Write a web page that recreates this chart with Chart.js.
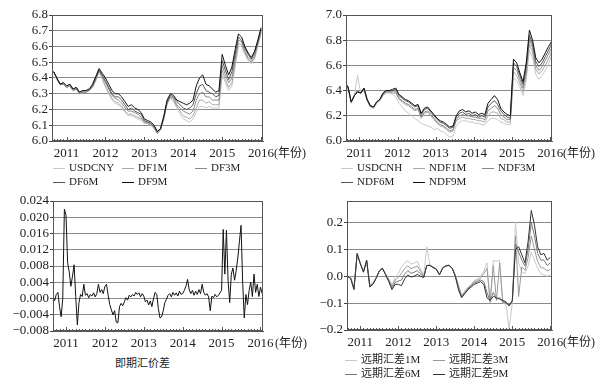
<!DOCTYPE html>
<html>
<head>
<meta charset="utf-8">
<script src="https://cdn.jsdelivr.net/npm/chart.js@4.4.0/dist/chart.umd.min.js"></script>
<style>
  body { margin: 0; background: #fff; width: 615px; height: 388px; position: relative; overflow: hidden;
         font-family: 'Liberation Serif', 'Noto Sans CJK SC', serif; color: #222; }
  canvas { position: absolute; }
  .lg { position: absolute; font-size: 11px; line-height: 12px; white-space: nowrap; }
  .lg i { display: inline-block; width: 12px; height: 0; border-top: 1px solid; vertical-align: middle; margin-right: 4px; }
  .unit { position: absolute; font-size: 12px; line-height: 14px; white-space: nowrap; }
</style>
</head>
<body>
<canvas id="tl" width="300" height="162" style="left:0;top:0"></canvas>
<canvas id="tr" width="300" height="162" style="left:300px;top:0"></canvas>
<canvas id="bl" width="300" height="165" style="left:0;top:185px"></canvas>
<canvas id="br" width="300" height="165" style="left:300px;top:185px"></canvas>

<div class="unit" style="left:274px;top:146px">(年份)</div>
<div class="unit" style="left:563px;top:146px">(年份)</div>
<div class="unit" style="left:275px;top:336px">(年份)</div>
<div class="unit" style="left:563px;top:335px">(年份)</div>

<div class="lg" style="left:53px;top:161px"><i style="border-color:#c8c8c8"></i>USDCNY</div>
<div class="lg" style="left:122px;top:161px"><i style="border-color:#a8a8a8"></i>DF1M</div>
<div class="lg" style="left:195px;top:161px"><i style="border-color:#888"></i>DF3M</div>
<div class="lg" style="left:53px;top:175px"><i style="border-color:#555"></i>DF6M</div>
<div class="lg" style="left:122px;top:175px"><i style="border-color:#111"></i>DF9M</div>

<div class="lg" style="left:341px;top:161px"><i style="border-color:#c8c8c8"></i>USDCNH</div>
<div class="lg" style="left:413px;top:161px"><i style="border-color:#a8a8a8"></i>NDF1M</div>
<div class="lg" style="left:482px;top:161px"><i style="border-color:#888"></i>NDF3M</div>
<div class="lg" style="left:341px;top:175px"><i style="border-color:#555"></i>NDF6M</div>
<div class="lg" style="left:413px;top:175px"><i style="border-color:#111"></i>NDF9M</div>

<div class="lg" style="left:115px;top:357px;font-size:11px">即期汇价差</div>

<div class="lg" style="left:345px;top:353px"><i style="border-color:#c8c8c8"></i>远期汇差1M</div>
<div class="lg" style="left:433px;top:353px"><i style="border-color:#999"></i>远期汇差3M</div>
<div class="lg" style="left:345px;top:367px"><i style="border-color:#777"></i>远期汇差6M</div>
<div class="lg" style="left:433px;top:367px"><i style="border-color:#333"></i>远期汇差9M</div>

<script>
const years = [2011, 2012, 2013, 2014, 2015, 2016];
const tlTicks = [6.0, 6.1, 6.2, 6.3, 6.4, 6.5, 6.6, 6.7, 6.8];
const trTicks = [6.0, 6.2, 6.4, 6.6, 6.8, 7.0];
const blTicks = [-0.008, -0.004, 0, 0.004, 0.008, 0.012, 0.016, 0.020, 0.024];
const brTicks = [-0.2, -0.1, 0, 0.1, 0.2];

// top left: monthly
const usdcny = [6.44,6.39,6.36,6.36,6.34,6.35,6.32,6.33,6.30,6.31,
  6.31,6.32,6.34,6.38,6.44,6.39,6.34,6.30,6.26,6.24,
  6.23,6.21,6.18,6.16,6.16,6.15,6.14,6.13,6.11,6.11,
  6.10,6.08,6.05,6.07,6.14,6.23,6.27,6.25,6.21,6.17,
  6.14,6.13,6.12,6.14,6.18,6.22,6.22,6.21,6.22,6.21,
  6.21,6.21,6.42,6.37,6.32,6.35,6.47,6.60,6.60,6.55,
  6.51,6.49,6.52,6.60,6.68];
const df1m = [6.44,6.39,6.36,6.36,6.34,6.35,6.32,6.33,6.30,6.31,
  6.31,6.32,6.34,6.39,6.44,6.40,6.35,6.31,6.27,6.25,
  6.24,6.22,6.19,6.17,6.17,6.16,6.15,6.14,6.12,6.11,
  6.10,6.08,6.05,6.07,6.14,6.24,6.28,6.26,6.22,6.19,
  6.16,6.15,6.14,6.16,6.21,6.26,6.26,6.24,6.25,6.23,
  6.23,6.23,6.45,6.39,6.34,6.37,6.49,6.62,6.61,6.56,
  6.52,6.50,6.53,6.61,6.69];
const df3m = [6.44,6.40,6.36,6.36,6.34,6.35,6.32,6.33,6.30,6.31,
  6.31,6.32,6.35,6.39,6.45,6.41,6.37,6.33,6.29,6.27,
  6.26,6.24,6.21,6.19,6.19,6.18,6.17,6.15,6.12,6.12,
  6.11,6.09,6.05,6.07,6.15,6.24,6.28,6.27,6.23,6.21,
  6.19,6.18,6.17,6.19,6.26,6.30,6.31,6.28,6.28,6.26,
  6.26,6.26,6.48,6.42,6.37,6.40,6.52,6.64,6.63,6.57,
  6.53,6.51,6.54,6.62,6.70];
const df6m = [6.44,6.40,6.36,6.37,6.35,6.36,6.33,6.34,6.31,6.32,
  6.32,6.33,6.35,6.40,6.45,6.42,6.38,6.34,6.30,6.28,
  6.28,6.26,6.23,6.20,6.21,6.19,6.18,6.17,6.13,6.12,
  6.11,6.09,6.06,6.08,6.15,6.25,6.29,6.28,6.25,6.23,
  6.21,6.20,6.21,6.23,6.30,6.35,6.36,6.32,6.31,6.30,
  6.28,6.29,6.51,6.45,6.39,6.44,6.55,6.66,6.64,6.59,
  6.55,6.52,6.56,6.63,6.71];
const df9m = [6.44,6.40,6.36,6.37,6.35,6.36,6.33,6.34,6.31,6.32,
  6.32,6.33,6.36,6.41,6.46,6.43,6.40,6.36,6.32,6.30,
  6.30,6.28,6.25,6.22,6.23,6.21,6.20,6.18,6.14,6.13,
  6.12,6.10,6.06,6.08,6.16,6.26,6.30,6.29,6.26,6.25,
  6.24,6.23,6.24,6.26,6.35,6.40,6.42,6.36,6.35,6.33,
  6.31,6.32,6.55,6.48,6.42,6.47,6.58,6.68,6.66,6.60,
  6.56,6.53,6.57,6.64,6.72];

// top right: monthly
const usdcnh = [6.45,6.42,6.30,6.37,6.52,6.38,6.40,6.32,6.27,6.26,
  6.30,6.32,6.36,6.38,6.38,6.37,6.35,6.30,6.27,6.24,
  6.22,6.20,6.18,6.16,6.14,6.13,6.12,6.11,6.09,6.10,
  6.08,6.07,6.05,6.03,6.04,6.12,6.15,6.16,6.16,6.15,
  6.15,6.14,6.14,6.13,6.13,6.16,6.18,6.18,6.17,6.15,
  6.14,6.13,6.13,6.50,6.48,6.43,6.36,6.48,6.72,6.66,
  6.53,6.49,6.52,6.56,6.61,6.68];
const ndf1m = [6.45,6.42,6.30,6.37,6.40,6.38,6.41,6.32,6.27,6.26,
  6.30,6.32,6.37,6.39,6.39,6.38,6.38,6.33,6.31,6.29,
  6.28,6.26,6.24,6.25,6.18,6.22,6.23,6.20,6.17,6.14,
  6.12,6.11,6.09,6.07,6.08,6.16,6.18,6.19,6.18,6.18,
  6.17,6.17,6.16,6.16,6.15,6.20,6.23,6.23,6.22,6.18,
  6.17,6.15,6.15,6.55,6.52,6.46,6.39,6.52,6.77,6.70,
  6.57,6.53,6.56,6.60,6.65,6.71];
const ndf3m = [6.45,6.42,6.31,6.36,6.40,6.38,6.41,6.33,6.28,6.27,
  6.31,6.33,6.37,6.39,6.39,6.39,6.39,6.34,6.32,6.30,
  6.29,6.27,6.25,6.26,6.19,6.23,6.24,6.21,6.18,6.15,
  6.13,6.12,6.10,6.08,6.09,6.17,6.20,6.21,6.20,6.20,
  6.19,6.19,6.18,6.18,6.17,6.24,6.26,6.28,6.26,6.21,
  6.19,6.17,6.17,6.58,6.56,6.49,6.42,6.56,6.81,6.74,
  6.60,6.56,6.59,6.64,6.69,6.74];
const ndf6m = [6.46,6.43,6.31,6.36,6.39,6.38,6.42,6.33,6.28,6.27,
  6.31,6.33,6.38,6.40,6.40,6.40,6.41,6.36,6.34,6.32,
  6.31,6.29,6.27,6.28,6.21,6.25,6.26,6.23,6.20,6.17,
  6.15,6.14,6.12,6.10,6.11,6.19,6.22,6.23,6.21,6.22,
  6.20,6.21,6.19,6.20,6.19,6.27,6.30,6.32,6.29,6.24,
  6.21,6.19,6.18,6.62,6.59,6.52,6.45,6.59,6.84,6.77,
  6.63,6.59,6.62,6.67,6.72,6.77];
const ndf9m = [6.46,6.43,6.31,6.36,6.39,6.38,6.42,6.33,6.28,6.27,
  6.31,6.33,6.38,6.40,6.40,6.41,6.42,6.37,6.35,6.33,
  6.32,6.30,6.28,6.29,6.22,6.26,6.27,6.24,6.21,6.18,
  6.16,6.15,6.13,6.11,6.12,6.20,6.24,6.25,6.23,6.24,
  6.22,6.23,6.21,6.22,6.21,6.30,6.33,6.36,6.33,6.26,
  6.23,6.21,6.20,6.65,6.62,6.54,6.47,6.62,6.88,6.80,
  6.66,6.62,6.65,6.70,6.75,6.79];

// bottom left: half-monthly
const spotGap = [0.0005,-0.0005,0.0010,0.0015,-0.0020,-0.0045,0.0000,0.0220,0.0205,0.0088,
  0.0065,0.0030,0.0055,0.0083,0.0005,-0.0065,-0.0010,0.0010,0.0005,0.0035,
  0.0008,0.0012,0.0002,0.0010,0.0006,0.0014,0.0004,0.0012,0.0035,0.0015,
  0.0022,0.0012,0.0030,0.0035,0.0008,-0.0015,-0.0028,-0.0040,-0.0030,-0.0058,
  -0.0060,-0.0020,-0.0012,-0.0018,-0.0008,0.0002,-0.0004,0.0008,0.0004,0.0010,
  0.0006,0.0015,0.0010,0.0014,0.0004,0.0012,0.0006,-0.0008,-0.0004,-0.0016,
  -0.0006,-0.0020,0.0000,0.0015,0.0010,-0.0025,-0.0048,-0.0045,-0.0030,-0.0010,
  -0.0002,0.0008,0.0012,0.0004,0.0015,0.0008,0.0014,0.0006,0.0018,0.0010,
  0.0012,0.0020,0.0030,0.0047,0.0022,0.0012,0.0020,0.0008,0.0018,0.0010,
  0.0022,0.0012,0.0035,0.0015,0.0008,0.0012,0.0004,-0.0030,0.0006,0.0002,
  0.0010,0.0004,0.0008,0.0014,0.0020,0.0170,0.0060,0.0168,0.0045,-0.0010,
  0.0060,0.0075,0.0045,0.0068,0.0100,0.0140,0.0180,0.0040,-0.0048,0.0010,
  -0.0015,0.0020,0.0040,0.0005,0.0060,0.0015,0.0035,0.0005,0.0028,0.0012];

// bottom right: monthly
const fs1m = [0.000,-0.005,-0.040,0.080,0.045,0.020,0.055,-0.030,-0.025,-0.005,
  0.020,0.028,0.010,-0.010,-0.030,-0.005,0.010,0.035,0.050,0.058,
  0.045,0.050,0.055,0.030,0.000,0.110,0.042,0.035,0.028,0.008,
  0.032,0.040,0.042,0.030,0.005,-0.030,-0.070,-0.055,-0.040,-0.030,
  -0.015,-0.010,0.000,0.020,0.050,-0.100,0.060,0.055,0.060,-0.100,
  -0.105,-0.195,-0.100,0.200,0.050,0.015,0.010,0.040,0.090,0.060,
  0.030,0.010,0.005,0.000,0.005];
const fs3m = [0.000,-0.007,-0.044,0.082,0.046,0.018,0.057,-0.034,-0.027,-0.006,
  0.020,0.029,0.008,-0.014,-0.037,-0.014,-0.004,0.011,0.029,0.039,
  0.028,0.033,0.038,0.020,-0.002,0.040,0.041,0.034,0.027,0.006,
  0.031,0.039,0.041,0.030,0.003,-0.037,-0.074,-0.059,-0.044,-0.034,
  -0.020,-0.015,-0.007,0.010,0.030,-0.095,0.040,-0.090,0.050,-0.098,
  -0.100,-0.110,-0.095,0.150,-0.075,0.035,0.022,0.070,0.150,0.100,
  0.055,0.032,0.030,0.020,0.025];
const fs6m = [0.000,-0.008,-0.047,0.084,0.047,0.016,0.059,-0.037,-0.029,-0.007,
  0.020,0.029,0.006,-0.017,-0.044,-0.023,-0.018,-0.014,0.008,0.021,
  0.011,0.015,0.021,0.009,-0.004,0.040,0.041,0.033,0.027,0.006,
  0.031,0.039,0.041,0.030,0.002,-0.044,-0.077,-0.062,-0.047,-0.037,
  -0.025,-0.020,-0.014,-0.020,-0.060,-0.092,-0.060,-0.085,-0.080,-0.095,
  -0.098,-0.108,-0.092,0.120,0.090,0.060,0.038,0.100,0.200,0.150,
  0.085,0.060,0.060,0.040,0.050];
const fs9m = [0.000,-0.010,-0.050,0.085,0.048,0.015,0.060,-0.040,-0.030,-0.008,
  0.020,0.030,0.005,-0.020,-0.050,-0.030,-0.030,-0.035,-0.010,0.005,
  -0.003,0.000,0.007,0.000,-0.005,0.040,0.040,0.032,0.026,0.005,
  0.030,0.038,0.040,0.030,0.000,-0.050,-0.080,-0.065,-0.050,-0.040,
  -0.030,-0.025,-0.020,-0.030,-0.080,-0.090,-0.075,-0.080,-0.085,-0.090,
  -0.095,-0.110,-0.090,0.100,0.110,0.080,0.050,0.130,0.245,0.190,
  0.110,0.080,0.085,0.060,0.070];

const tickFont = { family: "'Liberation Serif', 'Times New Roman', serif", size: 13 };
const minus = s => s.replace('-', '\u2212');

// box round the plot and small month ticks on the time axis
const frame = {
  id: 'frame',
  afterDatasetsDraw(chart) {
    const { ctx, chartArea: a } = chart;
    const x = chart.scales.x;
    ctx.save();
    ctx.strokeStyle = '#555';
    ctx.lineWidth = 1;
    ctx.strokeRect(Math.round(a.left) + 0.5, Math.round(a.top) + 0.5,
      Math.round(a.right - a.left) - 1, Math.round(a.bottom - a.top) - 1);
    ctx.beginPath();
    for (let m = Math.ceil(x.min * 12); m <= Math.floor(x.max * 12); m++) {
      const px = Math.round(x.getPixelForValue(m / 12)) + 0.5;
      ctx.moveTo(px, a.bottom);
      ctx.lineTo(px, a.bottom - (m % 12 === 0 ? 4 : 2));
    }
    ctx.stroke();
    ctx.restore();
  }
};

function panel(id, o) {
  const xs = o.series[0].data.map((_, i) => o.x0 + i * o.step);
  return new Chart(document.getElementById(id), {
    type: 'line',
    data: {
      datasets: o.series.map((s, i) => ({
        label: s.label,
        data: s.data.map((y, k) => ({ x: xs[k], y })),
        borderColor: s.color,
        borderWidth: 1,
        pointRadius: 0,
        tension: 0,
        order: o.series.length - i
      }))
    },
    options: {
      responsive: false,
      animation: false,
      layout: { padding: { top: o.top, right: o.right, left: 0, bottom: 0 } },
      plugins: { legend: { display: false }, tooltip: { enabled: false } },
      scales: {
        x: {
          type: 'linear', min: o.xmin, max: o.xmax,
          afterBuildTicks: s => { s.ticks = years.map(v => ({ value: v })); },
          afterFit: s => { s.height = o.xh; },
          grid: { display: false, drawTicks: false },
          border: { color: '#555' },
          ticks: { autoSkip: false, maxRotation: 0, padding: 5, color: '#222', font: tickFont,
                   callback: v => String(v) }
        },
        y: {
          min: o.ymin, max: o.ymax,
          afterBuildTicks: s => { s.ticks = o.yticks.map(v => ({ value: v })); },
          afterFit: s => { s.width = o.yw; },
          grid: { color: '#8c8c8c', tickLength: 3, tickColor: '#444' },
          border: { color: '#555' },
          ticks: { autoSkip: false, padding: 1, color: '#222', font: tickFont,
                   callback: v => minus(v.toFixed(o.dec)) }
        }
      }
    },
    plugins: [frame]
  });
}

panel('tl', {
  x0: 2010.667, step: 1 / 12, xmin: 2010.625, xmax: 2016.05,
  ymin: 6.0, ymax: 6.8, yticks: tlTicks, dec: 1,
  top: 15, right: 37, yw: 52, xh: 21,
  series: [
    { label: 'USDCNY', data: usdcny, color: '#c8c8c8' },
    { label: 'DF1M', data: df1m, color: '#a8a8a8' },
    { label: 'DF3M', data: df3m, color: '#888' },
    { label: 'DF6M', data: df6m, color: '#555' },
    { label: 'DF9M', data: df9m, color: '#111' }
  ]
});

panel('tr', {
  x0: 2010.62, step: 1 / 12, xmin: 2010.65, xmax: 2016.045,
  ymin: 6.0, ymax: 7.0, yticks: trTicks, dec: 1,
  top: 15, right: 48, yw: 46, xh: 21,
  series: [
    { label: 'USDCNH', data: usdcnh, color: '#c8c8c8' },
    { label: 'NDF1M', data: ndf1m, color: '#a8a8a8' },
    { label: 'NDF3M', data: ndf3m, color: '#888' },
    { label: 'NDF6M', data: ndf6m, color: '#555' },
    { label: 'NDF9M', data: ndf9m, color: '#111' }
  ]
});

panel('bl', {
  x0: 2010.667, step: 1 / 24, xmin: 2010.666, xmax: 2016.065,
  ymin: -0.008, ymax: 0.024, yticks: blTicks, dec: 3,
  top: 16, right: 37, yw: 53, xh: 19,
  series: [
    { label: '即期汇价差', data: spotGap, color: '#111' }
  ]
});

panel('br', {
  x0: 2010.667, step: 1 / 12, xmin: 2010.65, xmax: 2016.045,
  ymin: -0.2, ymax: 0.28, yticks: brTicks, dec: 1,
  top: 16, right: 48, yw: 47, xh: 20,
  series: [
    { label: '远期汇差1M', data: fs1m, color: '#c8c8c8' },
    { label: '远期汇差3M', data: fs3m, color: '#999' },
    { label: '远期汇差6M', data: fs6m, color: '#777' },
    { label: '远期汇差9M', data: fs9m, color: '#333' }
  ]
});
</script>
</body>
</html>
